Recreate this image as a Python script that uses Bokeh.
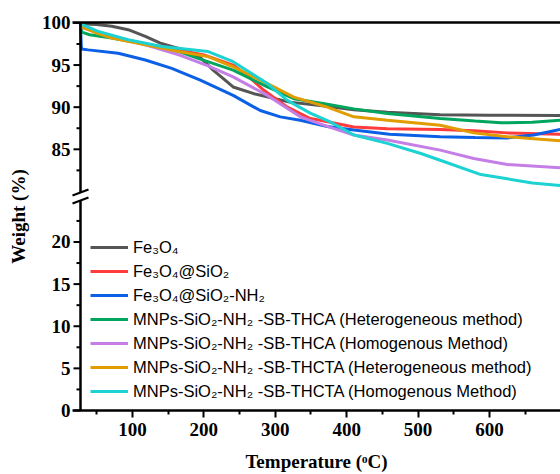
from bokeh.plotting import figure
from bokeh.models import Range1d, FixedTicker, LinearAxis, Legend, LegendItem
from bokeh.embed import file_html
from bokeh.resources import INLINE

# ---------------- data ----------------
names = [
    "Fe\u2083O\u2084",
    "Fe\u2083O\u2084@SiO\u2082",
    "Fe\u2083O\u2084@SiO\u2082-NH\u2082",
    "MNPs-SiO\u2082-NH\u2082 -SB-THCA (Heterogeneous method)",
    "MNPs-SiO\u2082-NH\u2082 -SB-THCA (Homogenous Method)",
    "MNPs-SiO\u2082-NH\u2082 -SB-THCTA (Heterogeneous method)",
    "MNPs-SiO\u2082-NH\u2082 -SB-THCTA (Homogenous Method)",
]
colors = ["#555555", "#ff3b3b", "#0b60e6", "#00a65d", "#c47ee6", "#e09c00", "#1cd2d2"]

t_fe3o4 = [27, 50, 71, 94, 118, 139, 167, 195, 213, 241, 270, 293, 320, 363, 410, 457, 531, 600, 699]
w_fe3o4 = [99.9, 99.8, 99.6, 99.2, 98.4, 97.6, 96.9, 95.9, 94.4, 92.4, 91.6, 91.15, 90.6, 90.2, 89.7, 89.4, 89.1, 89.05, 89.0]

t_sio2 = [27, 40, 71, 118, 165, 200, 241, 263, 284, 317, 349, 363, 410, 457, 531, 578, 625, 699]
w_sio2 = [99.8, 99.2, 98.3, 97.5, 96.8, 96.2, 95.0, 93.6, 92.0, 90.0, 88.65, 88.45, 87.65, 87.45, 87.35, 87.2, 86.95, 86.8]

t_nh2 = [27, 28.5, 38, 80, 118, 155, 195, 241, 279, 307, 335, 373, 410, 460, 531, 580, 625, 662, 699]
w_nh2 = [99.9, 96.9, 96.8, 96.4, 95.6, 94.6, 93.2, 91.4, 89.6, 88.85, 88.45, 87.7, 87.3, 86.8, 86.5, 86.4, 86.35, 86.7, 87.35]

t_thca_het = [27, 29, 40, 71, 118, 165, 195, 241, 289, 326, 373, 410, 457, 531, 580, 616, 660, 699]
w_thca_het = [99.8, 98.9, 98.6, 98.2, 97.5, 96.6, 95.7, 94.4, 92.4, 91.0, 90.35, 89.8, 89.25, 88.65, 88.35, 88.15, 88.2, 88.45]

t_thca_hom = [27, 71, 118, 165, 206, 241, 289, 335, 377, 410, 457, 531, 578, 625, 699]
w_thca_hom = [99.5, 98.4, 97.4, 96.2, 94.9, 93.6, 91.4, 88.85, 87.6, 86.7, 86.1, 84.9, 83.9, 83.2, 82.8]

t_thcta_het = [27, 50, 71, 118, 165, 206, 241, 289, 326, 373, 410, 457, 531, 578, 625, 699]
w_thcta_het = [99.6, 98.8, 98.2, 97.4, 96.6, 96.0, 94.8, 92.8, 91.2, 90.0, 88.85, 88.45, 87.85, 86.95, 86.5, 86.0]

t_thcta_hom = [27, 52, 94, 141, 206, 241, 289, 317, 349, 377, 410, 457, 504, 531, 588, 625, 660, 699]
w_thcta_hom = [99.9, 99.0, 98.0, 97.2, 96.6, 95.4, 92.8, 90.8, 89.3, 88.25, 86.7, 85.7, 84.5, 83.7, 82.0, 81.5, 81.0, 80.7]

series_t = [t_fe3o4, t_sio2, t_nh2, t_thca_het, t_thca_hom, t_thcta_het, t_thcta_hom]
series_w = [w_fe3o4, w_sio2, w_nh2, w_thca_het, w_thca_hom, w_thcta_het, w_thcta_hom]

x_ticks = [100, 200, 300, 400, 500, 600]
x_minor = [50, 150, 250, 350, 450, 550, 650]
y_ticks_low = [0, 5, 10, 15, 20]
y_minor_low = [2.5, 7.5, 12.5, 17.5, 22.5]
y_ticks_high = [85, 90, 95, 100]
y_minor_high = [82.5, 87.5, 92.5, 97.5]

# broken axis: values above the break are shifted down by OFFSET
OFFSET = 54
BREAK = 50


def fold(v):
    return v - OFFSET if v > BREAK else v


T_START = 27.2          # where the y axis line sits
X0, X1 = 16.0, 699.5    # frame spans a little left of the y axis line
Y0, Y1 = 0, 46.05
FRAME_W, FRAME_H = 488.0, 388.0
sx = (X1 - X0) / FRAME_W
sy = (Y1 - Y0) / FRAME_H

p = figure(width=560, height=474, x_range=Range1d(X0, X1), y_range=Range1d(Y0, Y1),
           output_backend="svg", toolbar_location=None,
           min_border_left=72, min_border_right=0, min_border_top=22, min_border_bottom=64)
p.outline_line_color = None
p.xgrid.visible = False
p.ygrid.visible = False
p.background_fill_color = "white"

lines = []
for t, w, c in zip(series_t, series_w, colors):
    r = p.line(t, [fold(v) for v in w], line_color=c, line_width=3)
    lines.append(r)

serif = "Liberation Serif"
xa = p.xaxis[0]
xa.ticker = FixedTicker(ticks=x_ticks, minor_ticks=x_minor)
ya = p.yaxis[0]
y_major = y_ticks_low + [fold(v) for v in y_ticks_high]
y_minor = y_minor_low + [fold(v) for v in y_minor_high]
ya.ticker = FixedTicker(ticks=y_major, minor_ticks=y_minor)
ya.major_label_overrides = {fold(v): str(v) for v in y_ticks_low + y_ticks_high}

for ax in (xa, ya):
    ax.axis_line_width = 2.5
    ax.axis_line_color = "black"
    ax.major_tick_line_width = 2
    ax.minor_tick_line_width = 2
    ax.major_tick_out = 7
    ax.major_tick_in = 0
    ax.minor_tick_out = 4
    ax.minor_tick_in = 0
    ax.major_label_text_font = serif
    ax.major_label_text_font_style = "bold"
    ax.major_label_text_font_size = "19px"
    ax.major_label_text_color = "black"
    ax.axis_label_text_font = serif
    ax.axis_label_text_font_style = "bold"
    ax.axis_label_text_font_size = "19px"
    ax.axis_label_text_color = "black"
xa.major_label_standoff = 5
xa.axis_label = "Temperature (\u1d52C)"
xa.axis_label_standoff = 12

# the left axis keeps its labels at the frame edge; its line and ticks are drawn at T_START
ya.axis_line_color = None
ya.major_tick_line_color = None
ya.minor_tick_line_color = None
ya.major_tick_out = 0
ya.minor_tick_out = 0
ya.major_label_standoff = 2
ya.axis_label = "Weight (%)"
ya.axis_label_standoff = 10

top = LinearAxis(ticker=FixedTicker(ticks=[]), axis_line_width=2.5, axis_line_color="black",
                 major_tick_line_color=None, minor_tick_line_color=None,
                 major_label_text_font_size="0px")
p.add_layout(top, "above")

# y axis line (broken), ticks and break mark, drawn over the data
BREAK_PX = 196
b_mid = (410 - BREAK_PX) * sy
gap = 4.0 * sy
p.segment(x0=[T_START, T_START], x1=[T_START, T_START],
          y0=[Y0, b_mid + gap], y1=[b_mid - gap, Y1],
          line_color="black", line_width=2.5, level="overlay")
p.segment(x0=[T_START - 7 * sx] * len(y_major), x1=[T_START] * len(y_major),
          y0=y_major, y1=y_major, line_color="black", line_width=2, level="overlay")
p.segment(x0=[T_START - 4 * sx] * len(y_minor), x1=[T_START] * len(y_minor),
          y0=y_minor, y1=y_minor, line_color="black", line_width=2, level="overlay")
sl_w, sl_h = 8 * sx, 3.0 * sy
p.segment(x0=[T_START - sl_w, T_START - sl_w], x1=[T_START + sl_w, T_START + sl_w],
          y0=[b_mid + gap - sl_h, b_mid - gap - sl_h],
          y1=[b_mid + gap + sl_h, b_mid - gap + sl_h],
          line_color="black", line_width=2.2, level="overlay")

legend = Legend(items=[LegendItem(label=n, renderers=[r]) for n, r in zip(names, lines)],
                location=(18, 9), border_line_color=None, background_fill_alpha=0,
                padding=0, margin=0, spacing=4, glyph_width=38, glyph_height=20,
                label_height=20, label_standoff=5,
                label_text_font="Liberation Sans", label_text_font_size="16.5px",
                label_text_color="black")
p.add_layout(legend, "center")

open("out.html", "w").write(file_html(p, INLINE))
